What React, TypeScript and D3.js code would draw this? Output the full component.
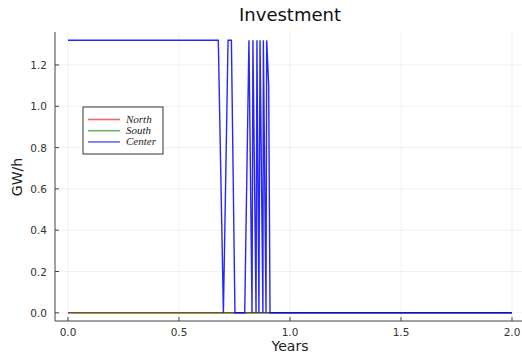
import React, { useEffect, useRef } from "react";
import * as d3 from "d3";

// series data (years, GW/h)
const northX = [0, 2];
const northY = [0, 0];
const southX = [0, 2];
const southY = [0, 0];
const centerX = [
  0, 0.677, 0.7, 0.721, 0.736, 0.752, 0.796, 0.815, 0.829, 0.833, 0.847, 0.851,
  0.86, 0.865, 0.878, 0.88, 0.892, 0.895, 0.904, 0.91, 2,
];
const centerY = [
  1.32, 1.32, 0, 1.32, 1.32, 0, 0, 1.32, 0, 1.32, 0, 1.32, 0, 1.32, 0, 1.32, 0,
  1.32, 1.1, 0, 0,
];
const xTicks = [0, 0.5, 1, 1.5, 2];
const yTicks = [0, 0.2, 0.4, 0.6, 0.8, 1.0, 1.2];
const seriesNames = ["North", "South", "Center"];
const seriesColors = ["#e8000b", "#008000", "#0000ff"];

const W = 522, H = 355;

const App = () => {
  const svgRef = useRef<SVGSVGElement>(null);

  useEffect(() => {
    document.body.style.margin = "0";
    const svg = d3.select(svgRef.current);
    svg.selectAll("*").remove();

    const x = d3.scaleLinear().domain([-0.0586, 2.0586]).range([55, 525]);
    const y = d3.scaleLinear().domain([-0.0396, 1.3596]).range([321, 32]);
    const font = "DejaVu Sans, sans-serif";

    // grid
    svg.append("g").selectAll("line").data(xTicks).join("line")
      .attr("x1", d => x(d)).attr("x2", d => x(d))
      .attr("y1", 32).attr("y2", 321)
      .attr("stroke", "#000").attr("stroke-opacity", 0.08).attr("stroke-width", 0.8);
    svg.append("g").selectAll("line").data(yTicks).join("line")
      .attr("x1", 55).attr("x2", 525)
      .attr("y1", d => y(d)).attr("y2", d => y(d))
      .attr("stroke", "#000").attr("stroke-opacity", 0.08).attr("stroke-width", 0.8);

    // series
    const line = d3.line<[number, number]>().x(d => x(d[0])).y(d => y(d[1]));
    const series = [
      { xs: northX, ys: northY, opacity: 0.8 },
      { xs: southX, ys: southY, opacity: 0.6 },
      { xs: centerX, ys: centerY, opacity: 0.85 },
    ];
    series.forEach((s, i) => {
      const pts = s.xs.map((v, j) => [v, s.ys[j]] as [number, number]);
      svg.append("path")
        .datum(pts)
        .attr("fill", "none")
        .attr("stroke", seriesColors[i])
        .attr("stroke-opacity", s.opacity)
        .attr("stroke-width", 1.4)
        .attr("d", line);
    });

    // axes spines
    svg.append("line").attr("x1", 55).attr("x2", 55).attr("y1", 32).attr("y2", 321)
      .attr("stroke", "#444").attr("stroke-width", 1);
    svg.append("line").attr("x1", 55).attr("x2", 525).attr("y1", 321).attr("y2", 321)
      .attr("stroke", "#444").attr("stroke-width", 1);

    // ticks
    svg.append("g").selectAll("line").data(xTicks).join("line")
      .attr("x1", d => x(d)).attr("x2", d => x(d))
      .attr("y1", 321).attr("y2", 317)
      .attr("stroke", "#444");
    svg.append("g").selectAll("line").data(yTicks).join("line")
      .attr("x1", 55).attr("x2", 59)
      .attr("y1", d => y(d)).attr("y2", d => y(d))
      .attr("stroke", "#444");

    svg.append("g").selectAll("text").data(xTicks).join("text")
      .attr("x", d => x(d)).attr("y", 336)
      .attr("text-anchor", "middle")
      .attr("font-family", font).attr("font-size", 10.5).attr("fill", "#333")
      .text(d => d3.format(".1f")(d));
    svg.append("g").selectAll("text").data(yTicks).join("text")
      .attr("x", 47).attr("y", d => y(d) + 4)
      .attr("text-anchor", "end")
      .attr("font-family", font).attr("font-size", 10.5).attr("fill", "#333")
      .text(d => d3.format(".1f")(d));

    // labels
    svg.append("text").attr("x", 290).attr("y", 21).attr("text-anchor", "middle")
      .attr("font-family", font).attr("font-size", 18).attr("fill", "#111")
      .text("Investment");
    svg.append("text").attr("x", 290).attr("y", 351).attr("text-anchor", "middle")
      .attr("font-family", font).attr("font-size", 14).attr("fill", "#222")
      .text("Years");
    svg.append("text")
      .attr("transform", "translate(22,177) rotate(-90)")
      .attr("text-anchor", "middle")
      .attr("font-family", font).attr("font-size", 14).attr("fill", "#222")
      .text("GW/h");

    // legend
    const lg = svg.append("g");
    lg.append("rect").attr("x", 83).attr("y", 107).attr("width", 80).attr("height", 47)
      .attr("fill", "#fff").attr("stroke", "#333").attr("stroke-width", 1);
    seriesNames.forEach((name, i) => {
      const ly = 119.5 + i * 11.2;
      lg.append("line").attr("x1", 88).attr("x2", 120).attr("y1", ly).attr("y2", ly)
        .attr("stroke", seriesColors[i]).attr("stroke-opacity", 0.6).attr("stroke-width", 1.6);
      lg.append("text").attr("x", 126).attr("y", ly + 3.5)
        .attr("font-family", "Liberation Serif, serif").attr("font-style", "italic")
        .attr("font-size", 11).attr("fill", "#222")
        .text(name);
    });
  }, []);

  return <svg ref={svgRef} width={W} height={H}></svg>;
};

export default App;
